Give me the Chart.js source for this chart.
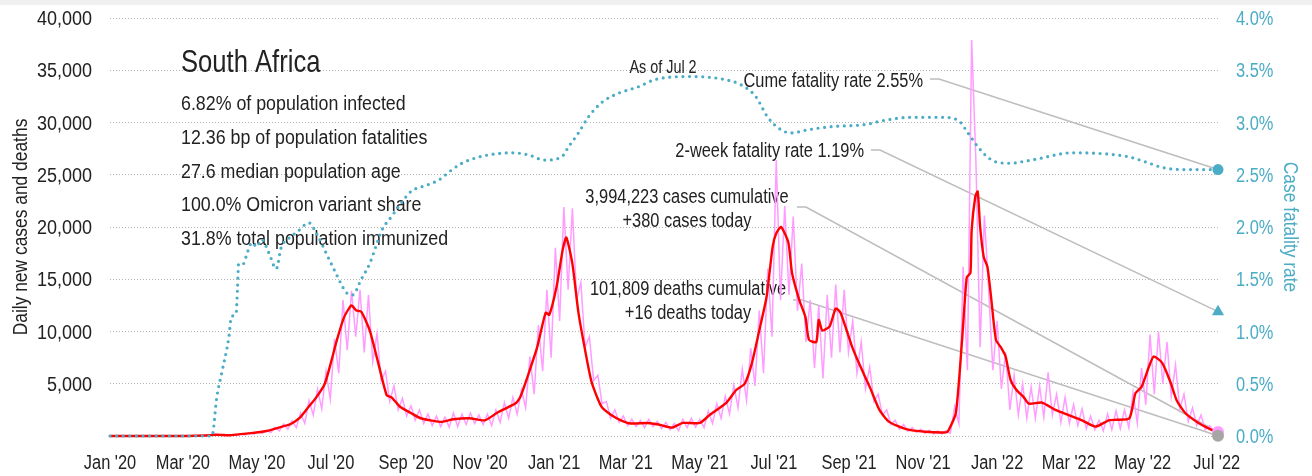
<!DOCTYPE html>
<html>
<head>
<meta charset="utf-8">
<title>South Africa</title>
<script src="https://cdn.jsdelivr.net/npm/chart.js@4.4.1/dist/chart.umd.min.js"></script>
<style>
  html, body { margin: 0; padding: 0; background: #fff; }
  #topbar { position: absolute; left: 0; top: 0; width: 1312px; height: 5px; background: #f0f0f0; }
  #chart { position: absolute; left: 0; top: 0; }
</style>
</head>
<body>
<div id="topbar"></div>
<canvas id="chart" width="1312" height="476"></canvas>
<script>
const FONT = '"Liberation Sans", Arial, sans-serif';
const TEAL = '#4bacc6';
const PINK = '#ff9cff';
const RED = '#ff0000';
const INK = '#222';

// days are counted from Jan 1 2020
const origin = Date.UTC(2020, 0, 1);
function toDay(s) {
  const [yy, mm, dd] = s.split('-').map(Number);
  return (Date.UTC(yy, mm - 1, dd) - origin) / 86400000;
}

const lastDate = '2022-07-02';
const countryName = 'South Africa';
const statLines = [
  '6.82% of population infected',
  '12.36 bp of population fatalities',
  '27.6 median population age',
  '100.0% Omicron variant share',
  '31.8% total population immunized'
];
const casesCumulative = 3994223;
const casesToday = 380;
const deathsCumulative = 101809;
const deathsToday = 16;
const cumeFatality = 2.55;
const twoWeekFatality = 1.19;

// x axis ticks, every other month
const tickDates = ['2020-01-01', '2020-03-01', '2020-05-01', '2020-07-01', '2020-09-01', '2020-11-01',
  '2021-01-01', '2021-03-01', '2021-05-01', '2021-07-01', '2021-09-01', '2021-11-01',
  '2022-01-01', '2022-03-01', '2022-05-01', '2022-07-01'];
const tickLabels = ["Jan '20", "Mar '20", "May '20", "Jul '20", "Sep '20", "Nov '20",
  "Jan '21", "Mar '21", "May '21", "Jul '21", "Sep '21", "Nov '21",
  "Jan '22", "Mar '22", "May '22", "Jul '22"];
const casesTicks = [5000, 10000, 15000, 20000, 25000, 30000, 35000, 40000];
const rateTicks = [0, 0.5, 1, 1.5, 2, 2.5, 3, 3.5, 4];

// daily new cases, two readings a week starting Mar 7 2020
const dailyStart = '2020-03-07';
const dailyStep = 3.5;
const dailyCases = [
  0, 0, 15, 5, 80, 40, 150, 80, 100, 60, 110, 60, 200, 110, 320, 180, 420, 250, 560, 330,
  820, 480, 1150, 650, 1450, 800, 2200, 1200, 3400, 2000, 4500, 2600, 6200, 3500, 9300, 6000, 13000, 8200, 13900, 9500,
  14000, 8000, 13500, 7100, 9800, 5300, 6200, 3300, 4800, 2500, 3600, 1900, 2900, 1500, 2500, 1200, 2100, 1000, 1900, 900,
  1800, 850, 2200, 900, 2100, 1100, 2200, 1200, 2000, 1100, 2100, 1000, 2500, 1300, 3200, 1700, 3700, 2100, 4400, 2700,
  7600, 4000, 10600, 6200, 14000, 7500, 18000, 11000, 21900, 14000, 21800, 13000, 14700, 8500, 9500, 5300, 5800, 3100, 3300, 1700,
  2500, 1300, 1900, 1000, 1600, 900, 1500, 800, 1600, 900, 1400, 700, 1300, 600, 1200, 500, 1600, 800, 1700, 850,
  1600, 800, 2400, 1200, 3100, 1700, 3800, 2100, 4900, 2700, 6400, 3400, 8400, 4800, 12000, 6000, 16000, 9500, 26400, 13000,
  22000, 13500, 21000, 12000, 16500, 9000, 13000, 6500, 12500, 5500, 13500, 7500, 14500, 8000, 14000, 8000, 11000, 6000, 9000, 4500,
  6600, 3300, 4000, 2000, 2500, 1100, 1500, 650, 1100, 450, 800, 350, 650, 250, 550, 200, 480, 200, 500, 250,
  2800, 1200, 16200, 6300, 37900, 26400, 8500, 21100, 14000, 6300, 11000, 4500, 8000, 2500, 5800, 2000, 5000, 1700, 4700, 1700,
  4800, 1800, 6100, 2000, 4000, 1300, 3700, 1200, 3000, 1000, 2600, 700, 1900, 600, 1500, 500, 2100, 600, 2400, 700,
  2500, 800, 4200, 1200, 6500, 3000, 9700, 4000, 10000, 5000, 9000, 3800, 6800, 2600, 4000, 1400, 2700, 1000, 2000, 600,
  1000, 500, casesToday
];

// 7-day average of new cases
const avgDates = [
  '2020-01-01', '2020-03-05', '2020-03-20', '2020-03-28', '2020-04-10', '2020-04-24', '2020-05-08', '2020-05-22', '2020-05-29', '2020-06-05',
  '2020-06-12', '2020-06-19', '2020-06-26', '2020-07-01', '2020-07-06', '2020-07-12', '2020-07-18', '2020-07-22', '2020-07-26', '2020-08-02',
  '2020-08-09', '2020-08-16', '2020-08-20', '2020-08-27', '2020-09-05', '2020-09-13', '2020-09-29', '2020-10-10', '2020-10-23', '2020-11-05',
  '2020-11-16', '2020-11-30', '2020-12-04', '2020-12-11', '2020-12-18', '2020-12-25', '2020-12-28', '2021-01-03', '2021-01-08', '2021-01-11',
  '2021-01-16', '2021-01-21', '2021-01-27', '2021-02-01', '2021-02-09', '2021-02-17', '2021-02-25', '2021-03-05', '2021-03-19', '2021-03-28',
  '2021-04-08', '2021-04-17', '2021-05-01', '2021-05-09', '2021-05-23', '2021-05-31', '2021-06-07', '2021-06-13', '2021-06-19', '2021-06-25',
  '2021-06-30', '2021-07-03', '2021-07-07', '2021-07-13', '2021-07-16', '2021-07-22', '2021-07-27', '2021-07-30', '2021-08-05', '2021-08-07',
  '2021-08-10', '2021-08-16', '2021-08-21', '2021-08-25', '2021-09-03', '2021-09-09', '2021-09-18', '2021-09-26', '2021-10-04', '2021-10-18',
  '2021-11-03', '2021-11-20', '2021-11-22', '2021-11-28', '2021-12-03', '2021-12-07', '2021-12-10', '2021-12-11', '2021-12-14', '2021-12-16',
  '2021-12-18', '2021-12-21', '2021-12-24', '2021-12-27', '2021-12-31', '2022-01-04', '2022-01-08', '2022-01-12', '2022-01-17', '2022-01-23',
  '2022-01-27', '2022-02-07', '2022-02-18', '2022-03-01', '2022-03-12', '2022-03-23', '2022-04-03', '2022-04-09', '2022-04-20', '2022-04-25',
  '2022-04-30', '2022-05-06', '2022-05-10', '2022-05-17', '2022-05-24', '2022-05-29', '2022-06-05', '2022-06-16', '2022-06-30', '2022-07-02'
];
const avgCases = [
  0, 0, 50, 120, 80, 250, 450, 900, 1150, 1700,
  2700, 3700, 5000, 7000, 9200, 11400, 12500, 12000, 11900, 10100,
  7000, 3900, 3700, 2800, 2200, 1700, 1350, 1600, 1700, 1500,
  2300, 3100, 3700, 6000, 8500, 11800, 11600, 14300, 17800, 19000,
  16500, 11800, 7900, 5100, 2800, 2000, 1500, 1200, 1250, 1100,
  800, 1250, 1250, 2000, 3200, 4400, 5000, 7000, 10100, 13300,
  18100, 19400, 20000, 18500, 15600, 13000, 11400, 9200, 9000, 11100,
  10100, 10500, 12200, 11800, 8700, 7000, 4700, 2500, 1350, 650,
  400, 350, 550, 2200, 9000, 15200, 15600, 19700, 22900, 23400,
  20000, 17100, 16200, 13300, 9200, 8500, 7600, 5400, 4400, 3700,
  3100, 3200, 2500, 2000, 1500, 900, 1500, 1550, 1700, 4100,
  4700, 6600, 7600, 7000, 5100, 3400, 2200, 1250, 400, 350
];

// cumulative case fatality rate, %
const cfrDates = [
  '2020-01-01', '2020-03-25', '2020-03-29', '2020-04-02', '2020-04-08', '2020-04-10', '2020-04-14', '2020-04-15', '2020-04-16', '2020-04-20',
  '2020-04-23', '2020-04-27', '2020-05-01', '2020-05-05', '2020-05-11', '2020-05-17', '2020-05-21', '2020-05-28', '2020-06-03', '2020-06-13',
  '2020-06-19', '2020-06-30', '2020-07-05', '2020-07-14', '2020-07-19', '2020-07-26', '2020-08-02', '2020-08-07', '2020-08-12', '2020-08-20',
  '2020-08-28', '2020-09-05', '2020-09-18', '2020-09-28', '2020-10-09', '2020-10-17', '2020-10-31', '2020-11-14', '2020-11-27', '2020-12-11',
  '2020-12-24', '2021-01-07', '2021-01-13', '2021-01-21', '2021-01-29', '2021-02-09', '2021-02-23', '2021-03-11', '2021-03-25', '2021-04-24',
  '2021-05-22', '2021-06-04', '2021-06-16', '2021-06-26', '2021-07-07', '2021-07-15', '2021-07-29', '2021-08-17', '2021-09-14', '2021-09-30',
  '2021-10-22', '2021-11-16', '2021-11-30', '2021-12-08', '2021-12-16', '2021-12-24', '2022-01-01', '2022-01-12', '2022-01-24', '2022-02-07',
  '2022-02-18', '2022-03-03', '2022-03-31', '2022-04-20', '2022-05-04', '2022-05-17', '2022-06-02', '2022-06-22', '2022-07-02'
];
const cfrValues = [
  0, 0, 0.37, 0.6, 0.95, 1.14, 1.18, 1.4, 1.65, 1.65,
  1.75, 1.85, 1.81, 1.88, 1.75, 1.6, 1.8, 1.9, 1.95, 2.04,
  1.94, 1.68, 1.56, 1.37, 1.35, 1.5, 1.65, 1.81, 1.97, 2.1,
  2.23, 2.34, 2.4, 2.45, 2.55, 2.61, 2.67, 2.7, 2.71, 2.69,
  2.64, 2.67, 2.77, 2.9, 3.05, 3.19, 3.28, 3.34, 3.41, 3.44,
  3.41, 3.36, 3.25, 3.05, 2.93, 2.9, 2.93, 2.96, 2.98, 3.02,
  3.05, 3.05, 3.02, 2.9, 2.77, 2.67, 2.62, 2.61, 2.63, 2.66,
  2.69, 2.71, 2.7, 2.67, 2.62, 2.57, 2.55, 2.55, cumeFatality
];

const lastDay = toDay(lastDate);
const dailyStartDay = toDay(dailyStart);
const dailyPoints = dailyCases.map((v, i) => ({ x: dailyStartDay + i * dailyStep, y: v }));
const avgPoints = avgDates.map((d, i) => ({ x: toDay(d), y: avgCases[i] }));
const cfrPoints = cfrDates.map((d, i) => ({ x: toDay(d), y: cfrValues[i] }));
const tickDays = tickDates.map(toDay);

const fmt = n => n.toLocaleString('en-US');

// narrow type: Liberation Sans squeezed horizontally
function narrowText(ctx, text, x, y, size, squeeze, align, color, rotation) {
  ctx.save();
  ctx.translate(x, y);
  if (rotation) ctx.rotate(rotation);
  ctx.scale(squeeze, 1);
  ctx.font = `${size}px ${FONT}`;
  ctx.textAlign = align;
  ctx.textBaseline = 'alphabetic';
  ctx.fillStyle = color;
  ctx.fillText(text, 0, 0);
  ctx.restore();
}

// annotation text and where its leader line starts
const notes = [
  { lines: ['As of Jul 2'], x: 663, y: 73, align: 'center', size: 18, squeeze: 0.8 },
  { lines: [`Cume fatality rate ${cumeFatality.toFixed(2)}%`], x: 923, y: 87, align: 'right', size: 20, squeeze: 0.82,
    from: [930, 79], axis: 'y2', value: cumeFatality },
  { lines: [`2-week fatality rate ${twoWeekFatality.toFixed(2)}%`], x: 864, y: 157, align: 'right', size: 20, squeeze: 0.82,
    from: [871, 150], axis: 'y2', value: twoWeekFatality },
  { lines: [`${fmt(casesCumulative)} cases cumulative`, `+${fmt(casesToday)} cases today`], x: 687, y: 203, align: 'center', size: 20, squeeze: 0.82,
    from: [797, 207], axis: 'y', value: casesToday },
  { lines: [`${fmt(deathsCumulative)} deaths cumulative`, `+${fmt(deathsToday)} deaths today`], x: 688, y: 295, align: 'center', size: 20, squeeze: 0.82,
    from: [793, 300], axis: 'y', value: deathsToday }
];

const annotations = {
  id: 'annotations',
  beforeDatasetsDraw(chart) {
    const { ctx, scales } = chart;
    const endX = scales.x.getPixelForValue(lastDay);
    ctx.save();

    // leader lines to the latest values
    ctx.strokeStyle = '#bdbdbd';
    ctx.lineWidth = 1.5;
    notes.filter(n => n.from).forEach(n => {
      const endY = scales[n.axis].getPixelForValue(n.value);
      ctx.beginPath();
      ctx.moveTo(n.from[0], n.from[1]);
      ctx.lineTo(n.from[0] + 9, n.from[1]);
      ctx.lineTo(endX, endY);
      ctx.stroke();
    });
    ctx.restore();

    notes.forEach(n => {
      n.lines.forEach((t, i) => narrowText(ctx, t, n.x, n.y + i * 24, n.size, n.squeeze, n.align, INK));
    });

    // country block
    narrowText(ctx, countryName, 181, 72, 32, 0.8, 'left', INK);
    statLines.forEach((t, i) => narrowText(ctx, t, 181, 110 + i * 33.8, 20, 0.89, 'left', INK));
  },
  afterDraw(chart) {
    const { ctx, scales: { x, y, y2 } } = chart;
    casesTicks.forEach(v => narrowText(ctx, fmt(v), 92, y.getPixelForValue(v) + 7, 20, 0.9, 'right', INK));
    rateTicks.forEach(v => narrowText(ctx, v.toFixed(1) + '%', 1236, y2.getPixelForValue(v) + 7, 20, 0.82, 'left', TEAL));
    tickDays.forEach((d, i) => narrowText(ctx, tickLabels[i], x.getPixelForValue(d), 469, 20, 0.82, 'center', INK));
    narrowText(ctx, 'Daily new cases and deaths', 27, (y.top + y.bottom) / 2, 20, 0.87, 'center', INK, -Math.PI / 2);
    narrowText(ctx, 'Case fatality rate', 1284, (y.top + y.bottom) / 2, 20, 0.87, 'center', TEAL, Math.PI / 2);
  }
};

new Chart(document.getElementById('chart'), {
  type: 'line',
  data: {
    datasets: [
      {
        label: 'Cume fatality rate',
        data: [{ x: lastDay, y: cumeFatality }],
        yAxisID: 'y2',
        showLine: false,
        clip: false,
        pointRadius: 5.5,
        pointBackgroundColor: TEAL,
        pointBorderWidth: 0
      },
      {
        label: '2-week fatality rate',
        data: [{ x: lastDay, y: twoWeekFatality }],
        yAxisID: 'y2',
        showLine: false,
        clip: false,
        pointStyle: 'triangle',
        pointRadius: 7,
        pointBackgroundColor: TEAL,
        pointBorderWidth: 0
      },
      {
        label: 'Deaths today',
        data: [{ x: lastDay, y: deathsToday }],
        yAxisID: 'y',
        showLine: false,
        clip: false,
        pointRadius: 6,
        pointBackgroundColor: '#a6a6a6',
        pointBorderWidth: 0
      },
      {
        label: 'Cases today',
        data: [{ x: lastDay, y: casesToday }],
        yAxisID: 'y',
        showLine: false,
        clip: false,
        pointRadius: 6,
        pointBackgroundColor: PINK,
        pointBorderWidth: 0
      },
      {
        label: 'Case fatality rate',
        data: cfrPoints,
        yAxisID: 'y2',
        clip: false,
        borderColor: TEAL,
        borderWidth: 3.2,
        borderDash: [0, 6.6],
        borderCapStyle: 'round',
        cubicInterpolationMode: 'monotone',
        pointRadius: 0
      },
      {
        label: '7-day average',
        data: avgPoints,
        yAxisID: 'y',
        clip: false,
        borderColor: RED,
        borderWidth: 2.4,
        tension: 0.2,
        pointRadius: 0
      },
      {
        label: 'Daily new cases',
        data: dailyPoints,
        yAxisID: 'y',
        clip: false,
        borderColor: PINK,
        borderWidth: 1.5,
        tension: 0,
        pointRadius: 0
      }
    ]
  },
  options: {
    responsive: false,
    devicePixelRatio: 1,
    animation: false,
    layout: { padding: { top: 18, left: 0, right: 0, bottom: 0 } },
    plugins: {
      legend: { display: false },
      tooltip: { enabled: false }
    },
    scales: {
      x: {
        type: 'linear',
        min: 0,
        max: lastDay,
        grid: { display: false },
        border: { display: false },
        afterBuildTicks(axis) {
          axis.ticks = tickDays.map(v => ({ value: v }));
        },
        afterFit(axis) { axis.height = 40; },
        ticks: { display: false }
      },
      y: {
        position: 'left',
        min: 0,
        max: 40000,
        afterFit(axis) { axis.width = 110; },
        grid: { color: '#b4b4b4', lineWidth: 1, drawTicks: false },
        border: { display: false, dash: [1, 2] },
        ticks: { display: false, stepSize: 5000 }
      },
      y2: {
        position: 'right',
        min: 0,
        max: 4,
        afterFit(axis) { axis.width = 94; },
        grid: { display: false, drawTicks: false },
        border: { display: false },
        ticks: { display: false, stepSize: 0.5 }
      }
    }
  },
  plugins: [annotations]
});
</script>
</body>
</html>
